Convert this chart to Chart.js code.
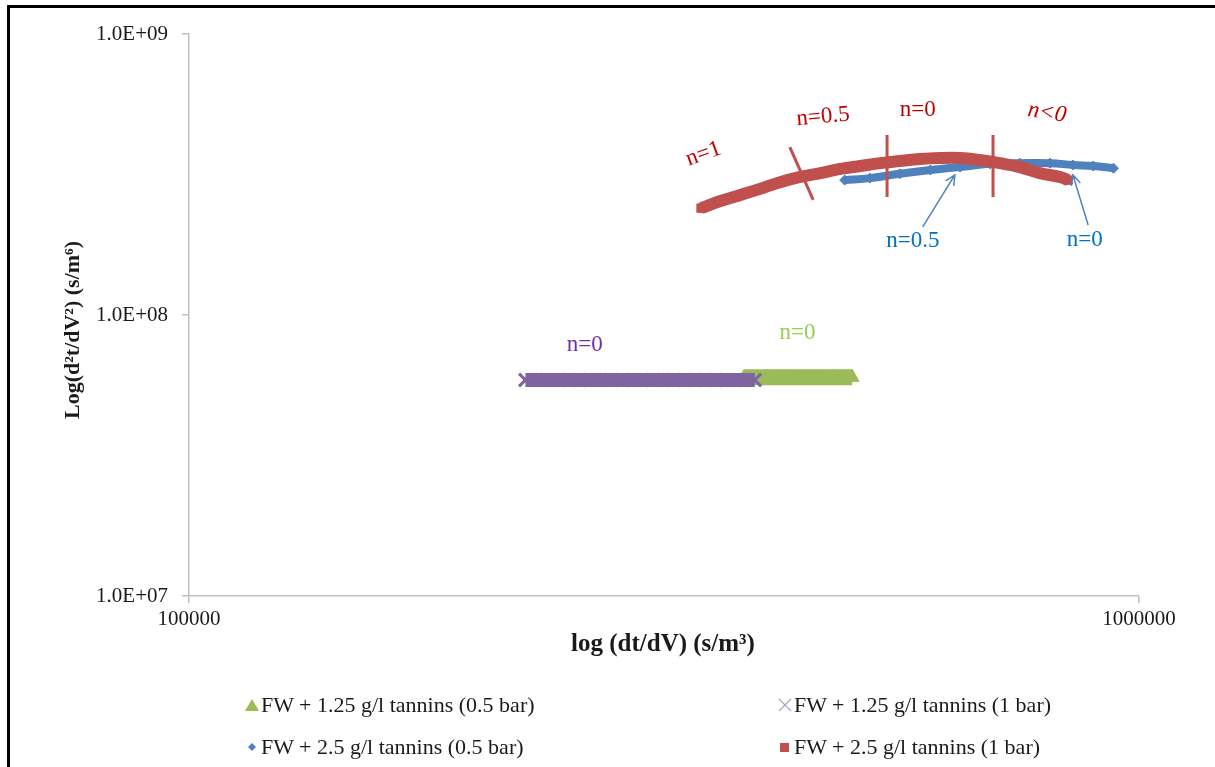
<!DOCTYPE html>
<html>
<head>
<meta charset="utf-8">
<script src="https://cdn.jsdelivr.net/npm/chart.js@4"></script>
<style>
  body { margin: 0; background: #fff; }
  #wrap { position: relative; width: 1215px; height: 767px; overflow: hidden; font-family: "Liberation Serif", "Times New Roman", serif; }
  #frame { position: absolute; left: 7px; top: 5px; width: 1300px; height: 900px; border-left: 3px solid #000; border-top: 3px solid #000; }
  #chart { position: absolute; left: 0; top: 0; }
  .leg { position: absolute; font-size: 22px; color: #1a1a1a; white-space: nowrap; line-height: 26px; }
  .leg svg { position: absolute; }
</style>
</head>
<body>
<div id="wrap">
  <div id="frame"></div>
  <canvas id="chart" width="1215" height="767"></canvas>
</div>
<script>
// axis ticks
const xTicks = [100000, 1000000];
const xTickLabels = ["100000", "1000000"];
const yTicks = [1e7, 1e8, 1e9];
const yTickLabels = ["1.0E+07", "1.0E+08", "1.0E+09"];

// FW + 1.25 g/l tannins (0.5 bar)
const greenX = [384000, 395000, 406000, 417000, 428000, 440000, 452000, 464000, 476000, 488000, 499000];
const greenY = [6.0e7, 6.0e7, 6.0e7, 6.0e7, 6.0e7, 6.0e7, 6.0e7, 6.0e7, 6.0e7, 6.0e7, 6.0e7];

// FW + 1.25 g/l tannins (1 bar)
const purpleX = [226000, 238000, 251000, 264000, 278000, 293000, 308000, 324000, 341000, 358000, 376000, 394000];
const purpleY = [5.87e7, 5.87e7, 5.87e7, 5.87e7, 5.87e7, 5.87e7, 5.87e7, 5.87e7, 5.87e7, 5.87e7, 5.87e7, 5.87e7];

// FW + 2.5 g/l tannins (0.5 bar)
const blueX = [490000, 521000, 560000, 603000, 648000, 697000, 749000, 806000, 852000, 895000, 940000];
const blueY = [3.02e8, 3.07e8, 3.18e8, 3.28e8, 3.36e8, 3.45e8, 3.47e8, 3.47e8, 3.42e8, 3.39e8, 3.33e8];

// FW + 2.5 g/l tannins (1 bar)
const redX = [346000, 362000, 380000, 399000, 419000, 440000, 462000, 485000, 509000, 534000,
              560000, 588000, 617000, 648000, 680000, 714000, 749000, 786000, 825000, 842000];
const redY = [2.40e8, 2.54e8, 2.67e8, 2.81e8, 2.97e8, 3.10e8, 3.20e8, 3.31e8, 3.39e8, 3.47e8,
              3.53e8, 3.59e8, 3.62e8, 3.62e8, 3.56e8, 3.47e8, 3.36e8, 3.20e8, 3.10e8, 3.02e8];

const seriesNames = [
  "FW + 1.25 g/l tannins (0.5 bar)",
  "FW + 1.25 g/l tannins (1 bar)",
  "FW + 2.5 g/l tannins (0.5 bar)",
  "FW + 2.5 g/l tannins (1 bar)"
];

// annotations in data units
const notes = [
  { text: "n=1", x: 3.48e5, y: 3.74e8, color: "#C00000", rot: -20 },
  { text: "n=0.5", x: 4.65e5, y: 5.07e8, color: "#C00000", rot: -5 },
  { text: "n=0", x: 5.85e5, y: 5.37e8, color: "#C00000", rot: 0 },
  { text: "n<0", x: 8.0e5, y: 5.24e8, color: "#C00000", rot: 9, italic: true },
  { text: "n=0.5", x: 5.78e5, y: 1.83e8, color: "#0070C0", rot: 0 },
  { text: "n=0", x: 8.77e5, y: 1.85e8, color: "#0070C0", rot: 0 },
  { text: "n=0", x: 2.61e5, y: 7.82e7, color: "#7030A0", rot: 0 },
  { text: "n=0", x: 4.37e5, y: 8.63e7, color: "#92D050", rot: 0 }
];
const cuts = [
  { x1: 4.29e5, y1: 3.96e8, x2: 4.54e5, y2: 2.57e8 },
  { x1: 5.43e5, y1: 4.37e8, x2: 5.43e5, y2: 2.63e8 },
  { x1: 7.02e5, y1: 4.37e8, x2: 7.02e5, y2: 2.63e8 }
];
const arrows = [
  { x1: 5.92e5, y1: 2.06e8, x2: 6.40e5, y2: 3.15e8 },
  { x1: 8.84e5, y1: 2.09e8, x2: 8.52e5, y2: 3.15e8 }
];

const serif = "'Liberation Serif', 'Times New Roman', serif";
const toPts = (xs, ys) => xs.map((v, i) => ({ x: v, y: ys[i] }));

const notesPlugin = {
  id: "notes",
  afterDatasetsDraw(chart) {
    const { ctx } = chart;
    const sx = chart.scales.x, sy = chart.scales.y;
    ctx.save();
    ctx.strokeStyle = "#C0504D";
    ctx.lineWidth = 3;
    cuts.forEach(c => {
      ctx.beginPath();
      ctx.moveTo(sx.getPixelForValue(c.x1), sy.getPixelForValue(c.y1));
      ctx.lineTo(sx.getPixelForValue(c.x2), sy.getPixelForValue(c.y2));
      ctx.stroke();
    });
    ctx.strokeStyle = "#4F81BD";
    ctx.lineWidth = 1.5;
    arrows.forEach(a => {
      const x1 = sx.getPixelForValue(a.x1), y1 = sy.getPixelForValue(a.y1);
      const x2 = sx.getPixelForValue(a.x2), y2 = sy.getPixelForValue(a.y2);
      const ang = Math.atan2(y2 - y1, x2 - x1);
      ctx.beginPath();
      ctx.moveTo(x1, y1);
      ctx.lineTo(x2, y2);
      ctx.moveTo(x2 - 11 * Math.cos(ang - 0.45), y2 - 11 * Math.sin(ang - 0.45));
      ctx.lineTo(x2, y2);
      ctx.lineTo(x2 - 11 * Math.cos(ang + 0.45), y2 - 11 * Math.sin(ang + 0.45));
      ctx.stroke();
    });
    ctx.textAlign = "center";
    ctx.textBaseline = "middle";
    notes.forEach(n => {
      ctx.save();
      ctx.translate(sx.getPixelForValue(n.x), sy.getPixelForValue(n.y));
      ctx.rotate(n.rot * Math.PI / 180);
      ctx.font = (n.italic ? "italic " : "") + "23px " + serif;
      ctx.fillStyle = n.color;
      ctx.fillText(n.text, 0, 0);
      ctx.restore();
    });
    ctx.restore();
  },
  afterDraw(chart) {
    const { ctx, chartArea } = chart;
    ctx.save();
    ctx.fillStyle = "#1a1a1a";
    ctx.textAlign = "center";
    ctx.textBaseline = "middle";
    ctx.font = "bold 25px " + serif;
    ctx.fillText("log (dt/dV) (s/m³)", 663, 645);
    ctx.font = "bold 22px " + serif;
    ctx.translate(73, 330);
    ctx.rotate(-Math.PI / 2);
    ctx.fillText("Log(d²t/dV²) (s/m⁶)", 0, 0);
    ctx.restore();
  }
};

new Chart(document.getElementById("chart"), {
  type: "scatter",
  data: {
    datasets: [
      {
        label: seriesNames[0], data: toPts(greenX, greenY), order: 4,
        showLine: true, borderColor: "#9BBB59", borderWidth: 16, borderCapStyle: "butt",
        pointStyle: "triangle", pointRadius: 8, backgroundColor: "#9BBB59", pointBorderColor: "#9BBB59", pointBorderWidth: 1
      },
      {
        label: seriesNames[1], data: toPts(purpleX, purpleY), order: 3,
        showLine: true, borderColor: "#8064A2", borderWidth: 14, borderCapStyle: "butt",
        pointStyle: "crossRot", pointRadius: 9, pointBorderColor: "#8064A2", pointBorderWidth: 3
      },
      {
        label: seriesNames[2], data: toPts(blueX, blueY), order: 2,
        showLine: true, borderColor: "#4F81BD", borderWidth: 8, borderCapStyle: "butt", tension: 0.4,
        pointStyle: "rectRot", pointRadius: 5, backgroundColor: "#4F81BD", pointBorderColor: "#4F81BD", pointBorderWidth: 1
      },
      {
        label: seriesNames[3], data: toPts(redX, redY), order: 1,
        showLine: true, borderColor: "#C0504D", borderWidth: 12, borderCapStyle: "butt", tension: 0.4,
        pointStyle: "rect", pointRadius: 6, backgroundColor: "#C0504D", pointBorderColor: "#C0504D", pointBorderWidth: 1
      }
    ]
  },
  options: {
    responsive: false,
    animation: false,
    layout: { padding: { left: 0, top: 34, right: 76, bottom: 131 } },
    plugins: { legend: { display: false }, tooltip: { enabled: false } },
    scales: {
      x: {
        type: "logarithmic", min: 100000, max: 1000000,
        afterBuildTicks: s => { s.ticks = xTicks.map(v => ({ value: v })); },
        afterFit: s => { s.height = 40; },
        ticks: {
          callback: (v, i) => xTickLabels[i], autoSkip: false, maxRotation: 0,
          font: { family: serif, size: 21 }, color: "#1a1a1a", padding: 4
        },
        grid: { drawOnChartArea: false, tickLength: 7, color: "#bfbfbf", lineWidth: 1.5 },
        border: { color: "#bfbfbf", width: 1.5 }
      },
      y: {
        type: "logarithmic", min: 1e7, max: 1e9,
        afterBuildTicks: s => { s.ticks = yTicks.map(v => ({ value: v })); },
        afterFit: s => { s.width = 189; },
        ticks: {
          callback: (v, i) => yTickLabels[i], autoSkip: false,
          font: { family: serif, size: 21 }, color: "#1a1a1a", padding: 14
        },
        grid: { drawOnChartArea: false, tickLength: 7, color: "#bfbfbf", lineWidth: 1.5 },
        border: { color: "#bfbfbf", width: 1.5 }
      }
    }
  },
  plugins: [notesPlugin]
});

// legend (two columns, like the source)
const legendItems = [
  { left: 244, top: 692, svg: '<svg width="16" height="16" style="left:0;top:5px"><polygon points="8,2 15,14 1,14" fill="#9BBB59"/></svg>' },
  { left: 777, top: 692, svg: '<svg width="16" height="16" style="left:0;top:5px"><path d="M2,2 L14,14 M14,2 L2,14" stroke="#B3A2C7" stroke-width="1.3"/></svg>' },
  { left: 244, top: 734, svg: '<svg width="16" height="16" style="left:0;top:5px"><polygon points="8,4 12,8 8,12 4,8" fill="#4F81BD"/></svg>' },
  { left: 777, top: 734, svg: '<svg width="16" height="16" style="left:0;top:5px"><rect x="3" y="4" width="9" height="9" fill="#C0504D"/></svg>' }
];
const wrap = document.getElementById("wrap");
legendItems.forEach((it, i) => {
  const d = document.createElement("div");
  d.className = "leg";
  d.style.left = it.left + "px";
  d.style.top = it.top + "px";
  d.innerHTML = it.svg + '<span style="margin-left:17px">' + seriesNames[i] + "</span>";
  wrap.appendChild(d);
});
</script>
</body>
</html>
